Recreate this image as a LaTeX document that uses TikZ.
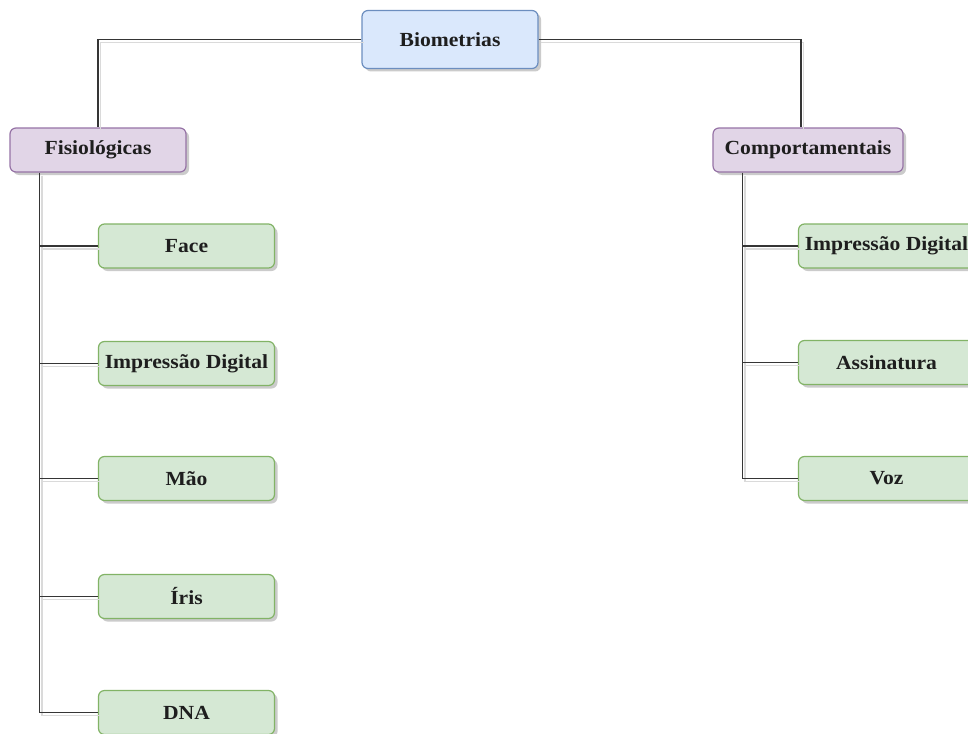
\documentclass[tikz,border=0pt]{standalone}
\usepackage{fontspec}
\setmainfont{Liberation Serif}[FakeStretch=1.08]
\usetikzlibrary{shadows,calc}

\definecolor{blueFill}{HTML}{DAE8FC}
\definecolor{blueLine}{HTML}{6C8EBF}
\definecolor{purpleFill}{HTML}{E1D5E7}
\definecolor{purpleLine}{HTML}{9673A6}
\definecolor{greenFill}{HTML}{D5E8D4}
\definecolor{greenLine}{HTML}{82B366}
\definecolor{inkText}{HTML}{1E1E1E}
\definecolor{wire}{HTML}{353535}
\definecolor{wireShade}{HTML}{DADADA}

\begin{document}
\begin{tikzpicture}[x=1pt,y=-1pt,
  box/.style={rounded corners=6pt, line width=1.2pt, inner sep=0pt,
    minimum width=176pt, minimum height=44pt,
    font=\bfseries\fontsize{20}{24}\selectfont, text=inkText,
    drop shadow={shadow xshift=3pt, shadow yshift=-3pt, fill=black!45, opacity=0.45}},
  rootbox/.style={box, fill=blueFill, draw=blueLine, minimum height=58pt},
  groupbox/.style={box, fill=purpleFill, draw=purpleLine},
  leafbox/.style={box, fill=greenFill, draw=greenLine},
  conn/.style={draw=wire, line width=1.7pt,
    preaction={draw=wireShade, line width=1.8pt, transform canvas={shift={(2.5pt,-3pt)}}}}]
  \clip (0,0) rectangle (968,733);
  \fill[white] (0,0) rectangle (968,733);

  % nodes
  \node[rootbox]  (bio)  at (450,39.5) {Biometrias};
  \node[groupbox] (fis)  at (98,150)   {Fisiológicas};
  \node[groupbox, minimum width=190pt] (comp) at (808,150) {Comportamentais};

  \node[leafbox] (face) at (186.5,246)   {Face};
  \node[leafbox] (impA) at (186.5,363.5) {Impressão Digital};
  \node[leafbox] (mao)  at (186.5,478.5) {Mão};
  \node[leafbox] (iris) at (186.5,596.5) {Íris};
  \node[leafbox] (dna)  at (186.5,712.5) {DNA};

  \node[leafbox] (impB) at (886.5,246)   {Impressão Digital};
  \node[leafbox] (assi) at (886.5,362.5) {Assinatura};
  \node[leafbox] (voz)  at (886.5,478.5) {Voz};

  % trunk anchors under the two groups
  \coordinate (fisT)  at ($(fis.south west)+(30,0)$);
  \coordinate (compT) at ($(comp.south west)+(30,0)$);
  \coordinate (compN) at ($(comp.north)+(-7,0)$);

  % connectors
  \draw[conn] (bio.west) -| (fis.north);
  \draw[conn] (bio.east) -| (compN);

  \draw[conn] (fisT) |- (dna.west);
  \foreach \n in {face,impA,mao,iris}
    \draw[conn] (\n.west) -- (\n.west -| fisT);

  \draw[conn] (compT) |- (voz.west);
  \foreach \n in {impB,assi}
    \draw[conn] (\n.west) -- (\n.west -| compT);
\end{tikzpicture}
\end{document}
